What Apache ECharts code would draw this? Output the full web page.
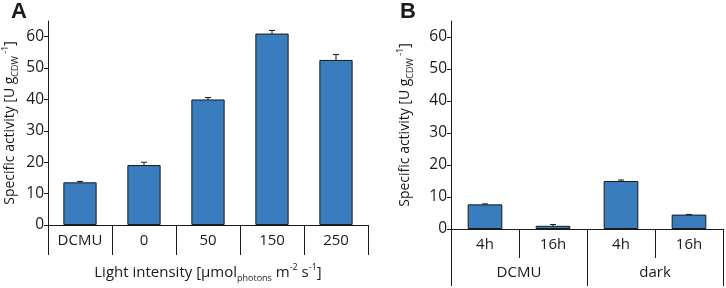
<!DOCTYPE html>
<html>
<head>
<meta charset="utf-8">
<script src="https://cdn.jsdelivr.net/npm/echarts@6/dist/echarts.min.js"></script>
<style>
  html, body { margin: 0; padding: 0; background: #fff; }
  #chart { width: 726px; height: 288px; }
</style>
</head>
<body>
<div id="chart"></div>
<script>
// panel A: light intensity
var catsA = ["DCMU", "0", "50", "150", "250"];
var valsA = [13.6, 19.1, 40.0, 61.0, 52.6];
var errA = [0.3, 0.9, 0.6, 1.0, 1.7];

// panel B: DCMU / dark, 4h and 16h
var catsB = ["4h", "16h", "4h", "16h"];
var groupsB = ["DCMU", "dark"];
var valsB = [7.7, 1.0, 15.0, 4.5];
var errB = [0.15, 0.4, 0.3, 0.05];

var yTicks = [0, 10, 20, 30, 40, 50, 60];

var font = "Open Sans";
var txt = "#1a1a1a";
var barColor = "#3a7dbf";

var nameRich = {
  n: { fontSize: 14, fontFamily: font, color: txt, lineHeight: 19 },
  sub: { fontSize: 9, fontFamily: font, color: txt, verticalAlign: "bottom" },
  sup: { fontSize: 9, fontFamily: font, color: txt, verticalAlign: "top" }
};

function yAxis(gridIndex, gap) {
  return {
    type: "value",
    gridIndex: gridIndex,
    min: 0,
    max: 65,
    interval: 10,
    name: "{n|Specific activity [U g}{sub|CDW}{sup| -1}{n|]}",
    nameLocation: "middle",
    nameRotate: 90,
    nameGap: gap,
    nameTextStyle: { rich: nameRich },
    splitLine: { show: false },
    axisLine: { show: true, lineStyle: { color: txt, width: 1 } },
    axisTick: { show: true, length: 4, customValues: yTicks, lineStyle: { color: txt } },
    axisLabel: { customValues: yTicks, fontSize: 15.5, fontFamily: font, color: txt, margin: 4 }
  };
}

function errorSeries(xIdx, yIdx, vals, errs) {
  return {
    type: "custom",
    xAxisIndex: xIdx,
    yAxisIndex: yIdx,
    z: 1,
    data: vals.map(function (v, i) { return [i, v, errs[i]]; }),
    renderItem: function (params, api) {
      var x = api.value(0);
      var top = api.coord([x, api.value(1) + api.value(2)]);
      var bot = api.coord([x, api.value(1) - api.value(2)]);
      var w = 6;
      return {
        type: "group",
        children: [
          { type: "line", shape: { x1: top[0], y1: top[1], x2: bot[0], y2: bot[1] }, style: { stroke: txt, lineWidth: 1 } },
          { type: "line", shape: { x1: top[0] - w / 2, y1: top[1], x2: top[0] + w / 2, y2: top[1] }, style: { stroke: txt, lineWidth: 1 } }
        ]
      };
    }
  };
}

var chart = echarts.init(document.getElementById("chart"));
var option = {
  animation: false,
  title: [
    { text: "A", left: 6, top: -4, textStyle: { fontSize: 22, fontWeight: "bold", fontFamily: "Liberation Sans", color: txt } },
    { text: "B", left: 395, top: -4, textStyle: { fontSize: 22, fontWeight: "bold", fontFamily: "Liberation Sans", color: txt } }
  ],
  grid: [
    { left: 48, top: 21, width: 320, height: 206 },
    { left: 451, top: 21, width: 272, height: 208 }
  ],
  xAxis: [
    {
      type: "category",
      gridIndex: 0,
      data: catsA,
      name: "{n|Light intensity [µmol}{sub|photons}{n| m}{sup|-2}{n| s}{sup|-1}{n|]}",
      nameLocation: "middle",
      nameGap: 38,
      nameTextStyle: { rich: { n: { fontSize: 15, fontFamily: font, color: txt, lineHeight: 20 }, sub: nameRich.sub, sup: nameRich.sup } },
      axisLine: { lineStyle: { color: txt } },
      axisTick: { show: true, interval: 0, length: 30, lineStyle: { color: txt } },
      axisLabel: { fontSize: 15, fontFamily: font, color: txt, margin: 8 }
    },
    {
      type: "category",
      gridIndex: 1,
      data: catsB,
      axisLine: { lineStyle: { color: txt } },
      axisTick: { show: true, interval: 0, length: 29, lineStyle: { color: txt } },
      axisLabel: { fontSize: 15, fontFamily: font, color: txt, margin: 8 }
    },
    {
      type: "category",
      gridIndex: 1,
      data: groupsB,
      position: "bottom",
      axisLine: { show: false },
      axisTick: { show: true, interval: 0, length: 57, lineStyle: { color: txt } },
      axisLabel: { fontSize: 15, fontFamily: font, color: txt, margin: 36 }
    }
  ],
  yAxis: [yAxis(0, 28), yAxis(1, 36)],
  series: [
    {
      type: "bar",
      xAxisIndex: 0,
      yAxisIndex: 0,
      z: 3,
      barWidth: "52%",
      data: valsA,
      itemStyle: { color: barColor, borderColor: "#1a1a1a", borderWidth: 1 }
    },
    errorSeries(0, 0, valsA, errA),
    {
      type: "bar",
      xAxisIndex: 1,
      yAxisIndex: 1,
      z: 3,
      barWidth: "51%",
      data: valsB,
      itemStyle: { color: barColor, borderColor: "#1a1a1a", borderWidth: 1 }
    },
    errorSeries(1, 1, valsB, errB)
  ]
};
chart.setOption(option);
window.addEventListener("resize", function () {
  chart.resize();
});
</script>
</body>
</html>
